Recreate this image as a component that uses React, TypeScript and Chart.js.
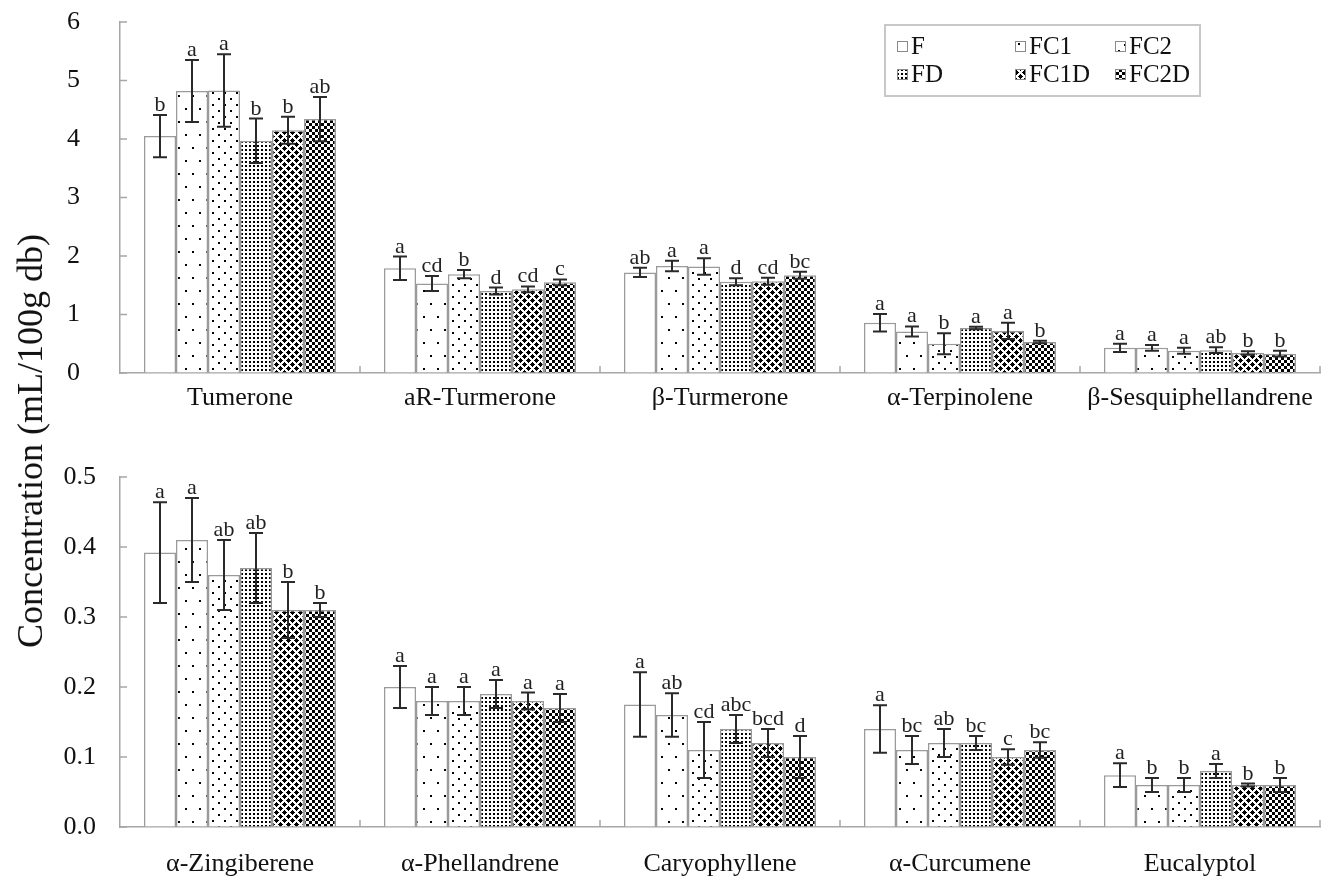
import React, { useEffect, useRef } from "react";
import { Chart, registerables } from "chart.js";
Chart.register(...registerables);

const FONT = '"Liberation Serif", "Times New Roman", serif';
const AXIS_COLOR = "#a6a6a6";
const BAR_BORDER = "#9a9a9a";
const ERR_COLOR = "#2a2a2a";

const SERIES = ["F", "FC1", "FC2", "FD", "FC1D", "FC2D"];

const TOP_CATEGORIES = ["Tumerone", "aR-Turmerone", "β-Turmerone", "α-Terpinolene", "β-Sesquiphellandrene"];
const BOTTOM_CATEGORIES = ["α-Zingiberene", "α-Phellandrene", "Caryophyllene", "α-Curcumene", "Eucalyptol"];

const TOP_TICK_LABELS = ["0", "1", "2", "3", "4", "5", "6"];
const BOTTOM_TICK_LABELS = ["0.0", "0.1", "0.2", "0.3", "0.4", "0.5"];

const Y_TITLE = "Concentration (mL/100g db)";

// ---- top panel values (per series, per category) ----
const TOP_F = [4.05, 1.79, 1.72, 0.86, 0.43];
const TOP_FC1 = [4.82, 1.53, 1.83, 0.71, 0.43];
const TOP_FC2 = [4.83, 1.69, 1.82, 0.5, 0.38];
const TOP_FD = [3.97, 1.4, 1.56, 0.77, 0.39];
const TOP_FC1D = [4.15, 1.43, 1.57, 0.72, 0.34];
const TOP_FC2D = [4.34, 1.55, 1.67, 0.53, 0.33];

const TOP_F_ERR = [0.36, 0.2, 0.08, 0.15, 0.07];
const TOP_FC1_ERR = [0.53, 0.13, 0.09, 0.085, 0.05];
const TOP_FC2_ERR = [0.62, 0.07, 0.14, 0.18, 0.05];
const TOP_FD_ERR = [0.38, 0.06, 0.06, 0.02, 0.05];
const TOP_FC1D_ERR = [0.23, 0.05, 0.06, 0.14, 0.03];
const TOP_FC2D_ERR = [0.38, 0.05, 0.06, 0.02, 0.05];

const TOP_F_SIG = ["b", "a", "ab", "a", "a"];
const TOP_FC1_SIG = ["a", "cd", "a", "a", "a"];
const TOP_FC2_SIG = ["a", "b", "a", "b", "a"];
const TOP_FD_SIG = ["b", "d", "d", "a", "ab"];
const TOP_FC1D_SIG = ["b", "cd", "cd", "a", "b"];
const TOP_FC2D_SIG = ["ab", "c", "bc", "b", "b"];

// ---- bottom panel values ----
const BOT_F = [0.392, 0.2, 0.175, 0.14, 0.074];
const BOT_FC1 = [0.41, 0.18, 0.16, 0.11, 0.06];
const BOT_FC2 = [0.36, 0.18, 0.11, 0.12, 0.06];
const BOT_FD = [0.37, 0.19, 0.14, 0.12, 0.08];
const BOT_FC1D = [0.31, 0.18, 0.12, 0.1, 0.06];
const BOT_FC2D = [0.31, 0.17, 0.1, 0.11, 0.06];

const BOT_F_ERR = [0.072, 0.03, 0.046, 0.034, 0.017];
const BOT_FC1_ERR = [0.06, 0.02, 0.031, 0.02, 0.01];
const BOT_FC2_ERR = [0.05, 0.02, 0.04, 0.02, 0.01];
const BOT_FD_ERR = [0.05, 0.02, 0.02, 0.01, 0.01];
const BOT_FC1D_ERR = [0.04, 0.012, 0.02, 0.011, 0.002];
const BOT_FC2D_ERR = [0.01, 0.02, 0.03, 0.011, 0.01];

const BOT_F_SIG = ["a", "a", "a", "a", "a"];
const BOT_FC1_SIG = ["a", "a", "ab", "bc", "b"];
const BOT_FC2_SIG = ["ab", "a", "cd", "ab", "b"];
const BOT_FD_SIG = ["ab", "a", "abc", "bc", "a"];
const BOT_FC1D_SIG = ["b", "a", "bcd", "c", "b"];
const BOT_FC2D_SIG = ["b", "a", "d", "bc", "b"];

const TOP_VALUES = [TOP_F, TOP_FC1, TOP_FC2, TOP_FD, TOP_FC1D, TOP_FC2D];
const TOP_ERRORS = [TOP_F_ERR, TOP_FC1_ERR, TOP_FC2_ERR, TOP_FD_ERR, TOP_FC1D_ERR, TOP_FC2D_ERR];
const TOP_SIGS = [TOP_F_SIG, TOP_FC1_SIG, TOP_FC2_SIG, TOP_FD_SIG, TOP_FC1D_SIG, TOP_FC2D_SIG];
const BOT_VALUES = [BOT_F, BOT_FC1, BOT_FC2, BOT_FD, BOT_FC1D, BOT_FC2D];
const BOT_ERRORS = [BOT_F_ERR, BOT_FC1_ERR, BOT_FC2_ERR, BOT_FD_ERR, BOT_FC1D_ERR, BOT_FC2D_ERR];
const BOT_SIGS = [BOT_F_SIG, BOT_FC1_SIG, BOT_FC2_SIG, BOT_FD_SIG, BOT_FC1D_SIG, BOT_FC2D_SIG];

function makeTile(w: number, h: number, isBlack: (x: number, y: number) => boolean) {
  const c = document.createElement("canvas");
  c.width = w;
  c.height = h;
  const g = c.getContext("2d")!;
  g.fillStyle = "#ffffff";
  g.fillRect(0, 0, w, h);
  g.fillStyle = "#000000";
  for (let y = 0; y < h; y++) for (let x = 0; x < w; x++) if (isBlack(x, y)) g.fillRect(x, y, 1, 1);
  return c;
}

function makePatterns(): (CanvasPattern | string)[] {
  const ctx = document.createElement("canvas").getContext("2d")!;
  const inDot = (x: number, y: number, dx: number, dy: number) => x >= dx && x < dx + 2 && y >= dy && y < dy + 2;
  const fc1 = makeTile(14, 26, (x, y) => inDot(x, y, 3, 4) || inDot(x, y, 10, 17));
  const fc2 = makeTile(12, 12, (x, y) => inDot(x, y, 2, 2) || inDot(x, y, 8, 8));
  const fd = makeTile(4, 4, (x, y) => inDot(x, y, 1, 1));
  const fc1d = makeTile(8, 8, (x, y) => {
    const a = (x + y) % 8;
    const b = (x - y + 16) % 8;
    return !(Math.abs(a - 4) <= 1 || Math.abs(b - 4) <= 1);
  });
  const fc2d = makeTile(6, 6, (x, y) => (Math.floor(x / 3) + Math.floor(y / 3)) % 2 === 0);
  return [
    "#ffffff",
    ctx.createPattern(fc1, "repeat")!,
    ctx.createPattern(fc2, "repeat")!,
    ctx.createPattern(fd, "repeat")!,
    ctx.createPattern(fc1d, "repeat")!,
    ctx.createPattern(fc2d, "repeat")!,
  ];
}

const axisTicksPlugin = {
  id: "axisTicks",
  afterDraw(chart: any) {
    const { ctx, chartArea: a, scales } = chart;
    const ys = scales.y;
    const xs = scales.x;
    ctx.save();
    ctx.strokeStyle = AXIS_COLOR;
    ctx.lineWidth = 1.5;
    ctx.beginPath();
    ys.ticks.forEach((t: any) => {
      const py = ys.getPixelForValue(t.value);
      ctx.moveTo(a.left, py);
      ctx.lineTo(a.left + 7, py);
    });
    const n = xs.ticks.length;
    for (let i = 1; i <= n; i++) {
      const px = a.left + ((a.right - a.left) * i) / n;
      ctx.moveTo(px, a.bottom);
      ctx.lineTo(px, a.bottom - 7);
    }
    ctx.stroke();
    ctx.restore();
  },
};

const errorBarPlugin = {
  id: "errorBars",
  afterDatasetsDraw(chart: any) {
    const { ctx, scales } = chart;
    const ys = scales.y;
    ctx.save();
    chart.data.datasets.forEach((ds: any, di: number) => {
      const meta = chart.getDatasetMeta(di);
      meta.data.forEach((bar: any, i: number) => {
        const v = ds.data[i];
        const e = ds.errors[i];
        const x = bar.x;
        const yTop = ys.getPixelForValue(v + e);
        const yBot = ys.getPixelForValue(Math.max(0, v - e));
        ctx.strokeStyle = ERR_COLOR;
        ctx.lineWidth = 2;
        ctx.beginPath();
        ctx.moveTo(x, yTop);
        ctx.lineTo(x, yBot);
        ctx.moveTo(x - 7, yTop);
        ctx.lineTo(x + 7, yTop);
        ctx.moveTo(x - 7, yBot);
        ctx.lineTo(x + 7, yBot);
        ctx.stroke();
        ctx.fillStyle = "#222222";
        ctx.font = `22px ${FONT}`;
        ctx.textAlign = "center";
        ctx.textBaseline = "alphabetic";
        ctx.fillText(ds.sig[i], x, yTop - 4);
      });
    });
    ctx.restore();
  },
};

const legendPlugin = {
  id: "patternLegend",
  afterDraw(chart: any) {
    if (!chart.options.plugins.patternLegend?.show) return;
    const { ctx } = chart;
    const box = { x: 885, y: 25, w: 315, h: 71 };
    ctx.save();
    ctx.fillStyle = "#ffffff";
    ctx.fillRect(box.x, box.y, box.w, box.h);
    ctx.strokeStyle = "#c8c8c8";
    ctx.lineWidth = 2;
    ctx.strokeRect(box.x, box.y, box.w, box.h);
    const cols = [897, 1015, 1115];
    const rows = [46, 74];
    chart.data.datasets.forEach((ds: any, i: number) => {
      const cx = cols[i % 3];
      const cy = rows[Math.floor(i / 3)];
      ctx.fillStyle = ds.backgroundColor;
      ctx.fillRect(cx, cy - 5, 11, 11);
      ctx.strokeStyle = "#8a8a8a";
      ctx.lineWidth = 1;
      ctx.strokeRect(cx + 0.5, cy - 4.5, 10, 10);
      ctx.fillStyle = "#111111";
      ctx.font = `25px ${FONT}`;
      ctx.textAlign = "left";
      ctx.textBaseline = "middle";
      ctx.fillText(ds.label, cx + 14, cy + 1);
    });
    ctx.restore();
  },
};

function buildConfig(
  categories: string[],
  values: number[][],
  errors: number[][],
  sigs: string[][],
  patterns: (CanvasPattern | string)[],
  yMax: number,
  yStep: number,
  tickLabels: string[],
  padTop: number,
  xAxisHeight: number,
  xLabelPad: number,
  yLabelGap: number,
  showLegend: boolean
): any {
  return {
    type: "bar",
    data: {
      labels: categories,
      datasets: SERIES.map((name, i) => ({
        label: name,
        data: values[i],
        errors: errors[i],
        sig: sigs[i],
        backgroundColor: patterns[i],
        borderColor: BAR_BORDER,
        borderWidth: 1.5,
        categoryPercentage: 0.8,
        barPercentage: 1.0,
      })),
    },
    options: {
      responsive: false,
      animation: false,
      devicePixelRatio: 1,
      layout: { padding: { top: padTop, right: 8, left: 0, bottom: 0 } },
      plugins: {
        legend: { display: false },
        tooltip: { enabled: false },
        patternLegend: { show: showLegend },
      },
      scales: {
        x: {
          grid: { display: false },
          border: { display: true, color: AXIS_COLOR, width: 1.5 },
          ticks: {
            font: { family: FONT, size: 26 },
            color: "#111111",
            padding: xLabelPad,
            maxRotation: 0,
            autoSkip: false,
          },
          afterFit: (s: any) => {
            s.height = xAxisHeight;
          },
        },
        y: {
          min: 0,
          max: yMax,
          grid: {
            display: true,
            drawOnChartArea: false,
            drawTicks: true,
            tickLength: yLabelGap,
            color: "rgba(0,0,0,0)",
          },
          border: { display: true, color: AXIS_COLOR, width: 1.5 },
          ticks: {
            stepSize: yStep,
            font: { family: FONT, size: 26 },
            color: "#111111",
            padding: 0,
            callback: (_v: any, i: number) => tickLabels[i],
          },
          afterFit: (s: any) => {
            s.width = 120;
          },
        },
      },
    },
    plugins: [axisTicksPlugin, errorBarPlugin, legendPlugin],
  };
}

export default function App() {
  const topRef = useRef<HTMLCanvasElement>(null);
  const botRef = useRef<HTMLCanvasElement>(null);

  useEffect(() => {
    const patterns = makePatterns();
    const top = new Chart(
      topRef.current!,
      buildConfig(TOP_CATEGORIES, TOP_VALUES, TOP_ERRORS, TOP_SIGS, patterns, 6, 1, TOP_TICK_LABELS, 22, 47, 2, 40, true)
    );
    const bot = new Chart(
      botRef.current!,
      buildConfig(BOTTOM_CATEGORIES, BOT_VALUES, BOT_ERRORS, BOT_SIGS, patterns, 0.5, 0.1, BOTTOM_TICK_LABELS, 37, 49, 14, 24, false)
    );
    return () => {
      top.destroy();
      bot.destroy();
    };
  }, []);

  return (
    <div style={{ position: "fixed", left: 0, top: 0, width: 1328, height: 876, background: "#ffffff", overflow: "hidden" }}>
      <canvas ref={topRef} width={1328} height={420} style={{ position: "absolute", left: 0, top: 0, display: "block" }} />
      <canvas ref={botRef} width={1328} height={436} style={{ position: "absolute", left: 0, top: 440, display: "block" }} />
      <div
        style={{
          position: "absolute",
          left: 30,
          top: 441,
          transform: "translate(-50%, -50%) rotate(-90deg)",
          whiteSpace: "nowrap",
          fontFamily: FONT,
          fontSize: 36,
          color: "#111111",
          lineHeight: 1,
        }}
      >
        {Y_TITLE}
      </div>
    </div>
  );
}
